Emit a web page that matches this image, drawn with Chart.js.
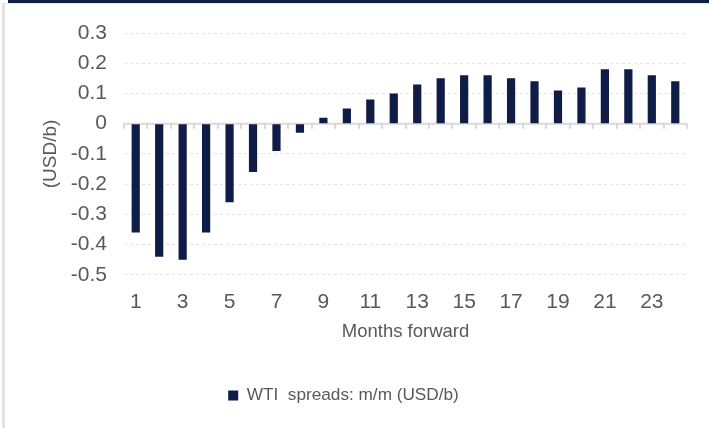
<!DOCTYPE html>
<html>
<head>
<meta charset="utf-8">
<script src="https://cdn.jsdelivr.net/npm/chart.js@4/dist/chart.umd.min.js"></script>
<style>
  body { margin: 0; background: #fff; }
  #wrap { position: relative; width: 709px; height: 428px; overflow: hidden; }
  #chart { position: absolute; left: 0; top: 0; }
  .band { position: absolute; left: 8px; top: 0; width: 701px; height: 3px; background: #0f1c45; }
  .frame { position: absolute; left: 2px; top: 3px; width: 707px; height: 425px;
           border-left: 3px solid #e2e2e2; border-top: 1px solid #e6e6e6; box-sizing: border-box; }
</style>
</head>
<body>
<div id="wrap">
  <canvas id="chart" width="709" height="428"></canvas>
  <div class="frame"></div>
  <div class="band"></div>
</div>
<script>
// Monate 1..24
const months = ["1","2","3","4","5","6","7","8","9","10","11","12",
  "13","14","15","16","17","18","19","20","21","22","23","24"];
// WTI spreads m/m (USD/b)
const spreads = [-0.36, -0.44, -0.45, -0.36, -0.26, -0.16, -0.09, -0.03,
  0.02, 0.05, 0.08, 0.10, 0.13, 0.15, 0.16, 0.16, 0.15, 0.14, 0.11, 0.12,
  0.18, 0.18, 0.16, 0.14];
const yTicks = [0.3, 0.2, 0.1, 0, -0.1, -0.2, -0.3, -0.4, -0.5];

const navy = "#0f1c45";
const textGray = "#595959";

// Nulllinie mit kleinen Strichen zwischen den Kategorien
const zeroAxis = {
  id: "zeroAxis",
  beforeDatasetsDraw(chart) {
    const { ctx, scales: { x, y } } = chart;
    const y0 = y.getPixelForValue(0);
    ctx.save();
    ctx.strokeStyle = "#d9d9d9";
    ctx.lineWidth = 2;
    ctx.beginPath();
    ctx.moveTo(x.left, y0);
    ctx.lineTo(x.right, y0);
    for (let i = 0; i <= months.length; i++) {
      const px = Math.round(x.getPixelForValue(i - 0.5));
      ctx.moveTo(px, y0);
      ctx.lineTo(px, y0 + 5);
    }
    ctx.stroke();
    ctx.restore();
  },
};

const canvas = document.querySelector("#chart");
const ctx = canvas.getContext("2d");

new Chart(ctx, {
  type: "bar",
  data: {
    labels: months,
    datasets: [
      {
        label: "WTI  spreads: m/m (USD/b)",
        data: spreads,
        backgroundColor: navy,
        borderWidth: 0,
        barPercentage: 0.35,
        categoryPercentage: 1,
      },
    ],
  },
  options: {
    responsive: false,
    animation: false,
    layout: { padding: { top: 33, right: 22, bottom: 14, left: 0 } },
    scales: {
      x: {
        afterFit: (scale) => { scale.height = 102; },
        grid: { display: false, drawTicks: false },
        border: { display: false },
        ticks: {
          autoSkip: false,
          maxRotation: 0,
          padding: 15,
          color: textGray,
          font: { family: "Liberation Sans", size: 21 },
          callback: (v, i) => (i % 2 === 0 ? months[i] : ""),
        },
        title: {
          display: true,
          text: "Months forward",
          color: textGray,
          font: { family: "Liberation Sans", size: 18.5 },
          padding: { top: 0, bottom: 34 },
        },
      },
      y: {
        min: -0.5,
        max: 0.3,
        afterFit: (scale) => { scale.width = 124; },
        afterBuildTicks: (scale) => { scale.ticks = yTicks.map((v) => ({ value: v })); },
        grid: {
          drawTicks: false,
          color: (c) => (c.tick && c.tick.value === 0 ? "rgba(0,0,0,0)" : "#e3e3e3"),
          lineWidth: 1,
        },
        border: { display: false, dash: [3, 3] },
        ticks: {
          padding: 17,
          color: textGray,
          font: { family: "Liberation Sans", size: 21 },
          callback: (v) => String(Math.round(v * 10) / 10),
        },
        title: {
          display: true,
          text: "(USD/b)",
          color: textGray,
          font: { family: "Liberation Sans", size: 19 },
          padding: { top: 39, bottom: 0 },
        },
      },
    },
    plugins: {
      legend: {
        position: "bottom",
        labels: {
          boxWidth: 10,
          boxHeight: 10,
          padding: 10,
          color: textGray,
          font: { family: "Liberation Sans", size: 17.2 },
        },
      },
      tooltip: { enabled: false },
    },
  },
  plugins: [zeroAxis],
});
</script>
</body>
</html>
